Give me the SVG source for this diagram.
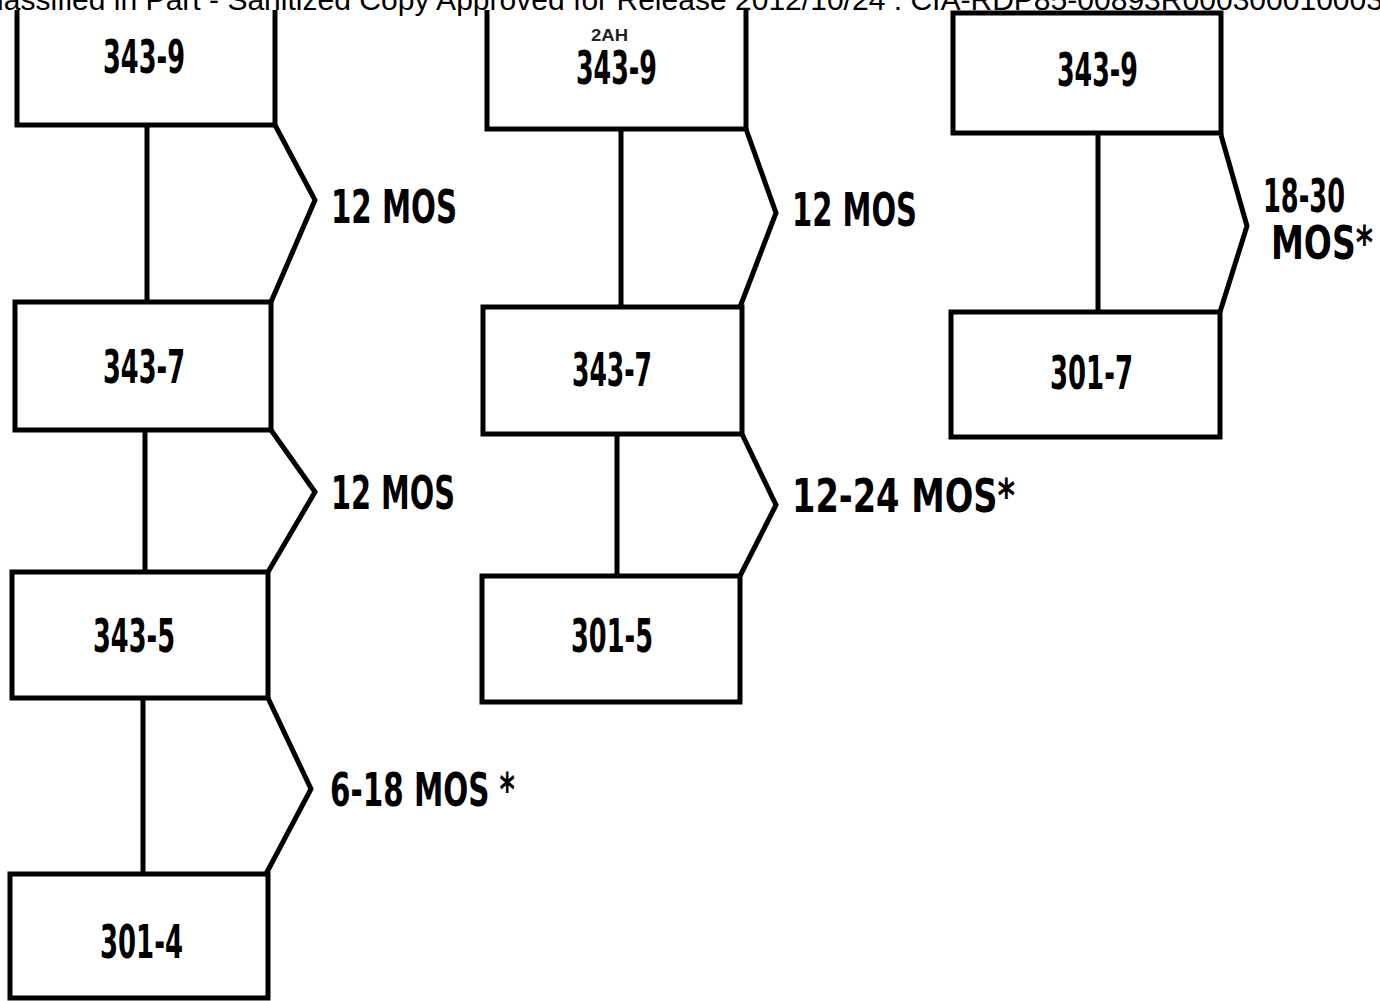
<svg xmlns="http://www.w3.org/2000/svg" width="1380" height="1001" viewBox="0 0 1380 1001">
<style>
.box{fill:none;stroke:#000;stroke-width:5;stroke-linejoin:miter}
.ln{fill:none;stroke:#000;stroke-width:5;stroke-linejoin:miter}
.lbl{font-family:"Liberation Sans Narrow","DejaVu Sans Condensed","Liberation Sans",sans-serif;font-weight:bold;font-size:46px;fill:#000}
.hdr{font-family:"Liberation Sans",Arial,sans-serif;font-size:30px;fill:#000}
.stamp{font-family:"Liberation Sans Narrow","Liberation Sans",sans-serif;font-weight:bold;font-size:17px;fill:#222}
</style>
<rect width="1380" height="1001" fill="#fff"/>
<text class="hdr" x="-3" y="10" textLength="1386" lengthAdjust="spacingAndGlyphs">lassified in Part - Sanitized Copy Approved for Release 2012/10/24 : CIA-RDP85-00893R000300010003</text>

<g id="connectors">
  <line class="ln" x1="147" y1="125" x2="147" y2="302"/>
  <polyline class="ln" points="275,125 315,200 271,302"/>
  <line class="ln" x1="145" y1="430" x2="145" y2="572"/>
  <polyline class="ln" points="271,430 315,492 268,572"/>
  <line class="ln" x1="143" y1="698" x2="143" y2="874"/>
  <polyline class="ln" points="268,698 311,789 266,874"/>
  <line class="ln" x1="621" y1="129" x2="621" y2="307"/>
  <polyline class="ln" points="746,129 776,213 740,307"/>
  <line class="ln" x1="617" y1="434" x2="617" y2="576"/>
  <polyline class="ln" points="742,434 776,505 740,576"/>
  <line class="ln" x1="1098" y1="133" x2="1098" y2="312"/>
  <polyline class="ln" points="1221,135 1247,226 1220,312"/>
  <text class="lbl" x="331" y="223" textLength="126" lengthAdjust="spacingAndGlyphs">12 MOS</text>
  <text class="lbl" x="331" y="509" textLength="124" lengthAdjust="spacingAndGlyphs">12 MOS</text>
  <text class="lbl" x="330" y="806" textLength="185" lengthAdjust="spacingAndGlyphs">6-18 MOS *</text>
  <text class="lbl" x="792" y="226" textLength="125" lengthAdjust="spacingAndGlyphs">12 MOS</text>
  <text class="lbl" x="792" y="512" textLength="223" lengthAdjust="spacingAndGlyphs">12-24 MOS*</text>
  <text class="lbl" x="1263" y="212" textLength="82" lengthAdjust="spacingAndGlyphs">18-30</text>
  <text class="lbl" x="1271" y="259" textLength="102" lengthAdjust="spacingAndGlyphs">MOS*</text>
</g>

<g id="c1-343-9">
  <path class="box" d="M17,10 V125 H275 V10"/>
  <text class="lbl" x="103" y="73" textLength="82" lengthAdjust="spacingAndGlyphs">343-9</text>
</g>
<g id="c1-343-7">
  <rect class="box" x="15" y="302" width="256" height="128"/>
  <text class="lbl" x="103" y="383" textLength="82" lengthAdjust="spacingAndGlyphs">343-7</text>
</g>
<g id="c1-343-5">
  <rect class="box" x="12" y="572" width="256" height="126"/>
  <text class="lbl" x="93" y="652" textLength="82" lengthAdjust="spacingAndGlyphs">343-5</text>
</g>
<g id="c1-301-4">
  <rect class="box" x="10" y="874" width="258" height="124"/>
  <text class="lbl" x="100" y="958" textLength="83" lengthAdjust="spacingAndGlyphs">301-4</text>
</g>

<g id="c2-343-9">
  <path class="box" d="M487,10 V129 H746 V10"/>
  <text class="stamp" x="591" y="41" textLength="37" lengthAdjust="spacingAndGlyphs">2AH</text>
  <text class="lbl" x="576" y="84" textLength="81" lengthAdjust="spacingAndGlyphs">343-9</text>
</g>
<g id="c2-343-7">
  <rect class="box" x="483" y="307" width="259" height="127"/>
  <text class="lbl" x="572" y="386" textLength="80" lengthAdjust="spacingAndGlyphs">343-7</text>
</g>
<g id="c2-301-5">
  <rect class="box" x="482" y="576" width="258" height="126"/>
  <text class="lbl" x="571" y="652" textLength="82" lengthAdjust="spacingAndGlyphs">301-5</text>
</g>

<g id="c3-343-9">
  <rect class="box" x="953" y="13" width="268" height="120"/>
  <text class="lbl" x="1057" y="86" textLength="81" lengthAdjust="spacingAndGlyphs">343-9</text>
</g>
<g id="c3-301-7">
  <rect class="box" x="951" y="312" width="269" height="125"/>
  <text class="lbl" x="1050" y="389" textLength="83" lengthAdjust="spacingAndGlyphs">301-7</text>
</g>
</svg>
